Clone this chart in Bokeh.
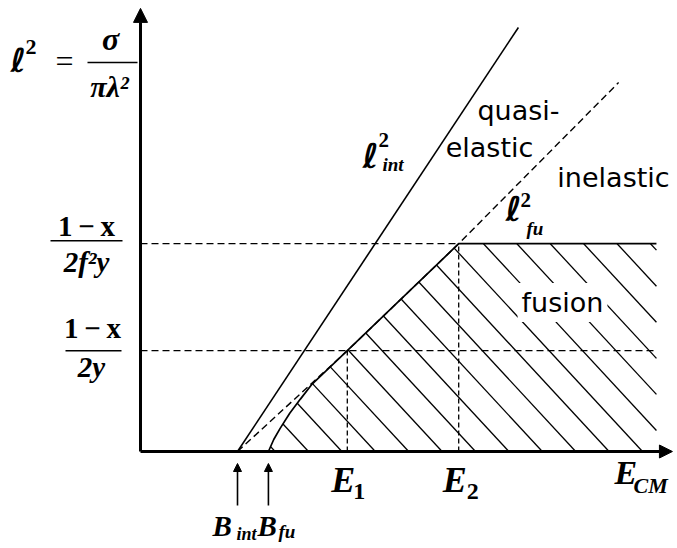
from bokeh.plotting import figure
from bokeh.models import Range1d, Label, Arrow, NormalHead
from bokeh.embed import file_html
from bokeh.resources import INLINE

# ---------------- data ----------------
# energies on the E_CM axis (arbitrary units)
B_int = 1.82
B_fu = 2.40
E1 = 3.88
E2 = 5.97
E_max = 9.68
E_axis_end = 9.98
# levels on the l^2 axis
L1 = 2.27   # (1-x)/(2y)
L2 = 4.68   # (1-x)/(2 f^2 y)
l_axis_end = 9.98

# l^2_int line
lint_E = [1.82, 7.09]
lint_l = [0.0, 9.55]
# l^2_fu line (dashed)
lfu_E = [1.82, 3.88, 5.97, 8.97]
lfu_l = [0.0, 2.27, 4.68, 8.31]
# boundary of the fusion region
fus_E = [2.40, 2.50, 2.62, 2.80, 3.00, 3.22, 3.88, 5.97, 9.68]
fus_l = [0.0, 0.27, 0.52, 0.86, 1.18, 1.52, 2.27, 4.68, 4.68]

region_labels = ["quasi-", "elastic", "inelastic", "fusion"]

# ---------------- layout helpers (picture pixel -> data) ----------------
SX = 53.3   # px per E unit
SY = 44.4   # px per l^2 unit
X0 = 140    # picture x of E = 0
Y0 = 451    # picture y of l^2 = 0
W, H = 677, 548

def ex(px):
    return (px - X0) / SX

def ly(py):
    return (Y0 - py) / SY

p = figure(width=W, height=H, output_backend="svg", toolbar_location=None,
           x_range=Range1d(ex(0), ex(W)), y_range=Range1d(ly(H), ly(0)),
           x_axis_type=None, y_axis_type=None, min_border=0,
           min_border_left=0, min_border_right=0, min_border_top=0, min_border_bottom=0)
p.grid.visible = False
p.outline_line_color = None
p.background_fill_color = "white"
p.border_fill_color = "white"

DASH = "7 4"

# ---------------- hatching of the fusion region (style: 33 px spacing, ~47 deg) ----------------
poly_E = fus_E + [fus_E[-1]]
poly_l = fus_l + [0.0]
HATCH_STEP_PX = 33.4
HATCH_SLOPE_PX = 1.08
k = HATCH_SLOPE_PX * SX / SY   # data rise per data run (going up-left)

def clip(c):
    x0, y0, dx, dy = c, 0.0, -1.0, k
    ts = []
    n = len(poly_E)
    for i in range(n):
        ax, ay = poly_E[i], poly_l[i]
        bx, by = poly_E[(i + 1) % n], poly_l[(i + 1) % n]
        exx, eyy = bx - ax, by - ay
        den = dx * eyy - dy * exx
        if abs(den) < 1e-12:
            continue
        t = ((ax - x0) * eyy - (ay - y0) * exx) / den
        u = ((ax - x0) * dy - (ay - y0) * dx) / den
        if 0 <= u < 1:
            ts.append(t)
    ts.sort()
    return [(x0 + a * dx, y0 + a * dy, x0 + b * dx, y0 + b * dy) for a, b in zip(ts[0::2], ts[1::2])]

hx, hy = [], []
c_start = ex(475)
for i in range(-12, 20):
    for (xa, ya, xb, yb) in clip(c_start + i * HATCH_STEP_PX / SX + 1e-7):
        hx.append([xa, xb])
        hy.append([ya, yb])
p.multi_line(hx, hy, line_color="black", line_width=1.3)

# guide lines
p.line([0, E2], [L2, L2], line_color="black", line_width=1.3, line_dash=DASH)
p.line([0, E_max], [L1, L1], line_color="black", line_width=1.3, line_dash=DASH)
p.line([E1, E1], [0, L1], line_color="black", line_width=1.3, line_dash="5 3")
p.line([E2, E2], [0, L2], line_color="black", line_width=1.3, line_dash="5 3")

# l^2 lines
p.line(lint_E, lint_l, line_color="black", line_width=1.6)
p.line(lfu_E, lfu_l, line_color="black", line_width=1.4, line_dash=DASH)
p.line(fus_E, fus_l, line_color="black", line_width=1.7)

# axes with arrows
p.add_layout(Arrow(x_start=0, y_start=0, x_end=E_axis_end, y_end=0, line_width=3,
                   end=NormalHead(size=13, fill_color="black", line_color="black", line_width=1)))
p.add_layout(Arrow(x_start=0, y_start=0, x_end=0, y_end=l_axis_end, line_width=3,
                   end=NormalHead(size=14, fill_color="black", line_color="black", line_width=1)))
# threshold arrows
for b in (B_int, B_fu):
    p.add_layout(Arrow(x_start=b, y_start=ly(505), x_end=b, y_end=ly(463), line_width=1.6,
                       end=NormalHead(size=8, fill_color="black", line_color="black", line_width=1)))

SERIF = "Liberation Serif"
SANS = "DejaVu Sans"
ELL = "DejaVu Sans"
BASE_FIX = 0.37   # em, empirical baseline correction

def lab(text, x, py, size, font=SERIF, style="bold italic", align="left", **kw):
    p.add_layout(Label(x=x, y=ly(py - BASE_FIX * size), text=text, text_font=font,
                       text_font_style=style, text_font_size=f"{size}px", text_align=align,
                       text_baseline="alphabetic", text_color="black", **kw))

# y axis title  l^2 = sigma / (pi lambda^2)
lab("ℓ", ex(10), 72, 33, font=ELL)
lab("2", ex(25), 55, 22, style="bold")
lab("=", ex(55), 72, 32, style="normal")
lab("σ", ex(110), 50, 32, align="center")
lab("πλ²", ex(109), 97, 30, align="center")
p.segment([ex(87)], [ly(62)], [ex(137)], [ly(62)], line_color="black", line_width=1.5)

# y tick fractions
lab("1\u2009−\u2009x", ex(86), 236, 29, style="bold", align="center")
lab("2f²y", ex(86), 272, 29, align="center")
p.segment([ex(50)], [L2 + 3 / SY], [ex(122)], [L2 + 3 / SY], line_color="black", line_width=1.5)
lab("1\u2009−\u2009x", ex(92), 338, 29, style="bold", align="center")
lab("2y", ex(91), 377, 29, align="center")
p.segment([ex(65)], [L1], [ex(121)], [L1], line_color="black", line_width=1.5)

# x tick labels
lab("E", E1, 493, 36, align="center", x_offset=-4)
lab("1", E1, 500, 24, style="bold", x_offset=6)
lab("E", E2, 493, 36, align="center", x_offset=-4)
lab("2", E2, 500, 24, style="bold", x_offset=8)
lab("E", ex(614), 485, 34)
lab("CM", ex(633), 493, 22)
lab("B", ex(212), 536, 29)
lab("int", ex(236), 540, 18)
lab("B", ex(257), 536, 29)
lab("fu", ex(278), 538, 19)

# line labels
lab("ℓ", ex(362), 168, 34, font=ELL)
lab("2", ex(378), 147, 21, style="bold")
lab("int", ex(382), 171, 19)
lab("ℓ", ex(505), 221, 34, font=ELL)
lab("2", ex(520), 207, 21, style="bold")
lab("fu", ex(526), 235, 19)

# region labels
lab(region_labels[0], ex(518), 120, 27, font=SANS, style="normal", align="center")
lab(region_labels[1], ex(489), 157, 27, font=SANS, style="normal", align="center")
lab(region_labels[2], ex(613), 187, 27, font=SANS, style="normal", align="center")
lab(region_labels[3], ex(562), 312, 27, font=SANS, style="normal", align="center",
    background_fill_color="white", padding=4)

open("out.html", "w").write(file_html(p, INLINE))
